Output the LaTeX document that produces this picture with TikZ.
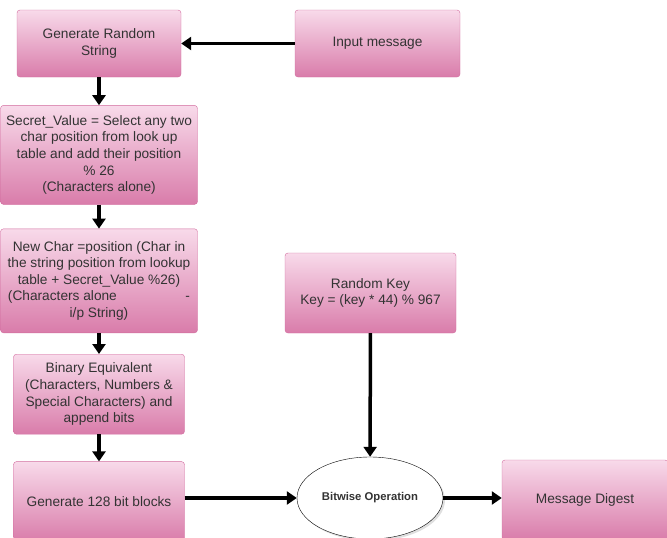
\documentclass[tikz,border=0pt]{standalone}
\usepackage{fontspec}
\setmainfont{Liberation Sans}
\usetikzlibrary{shapes.geometric, arrows.meta, positioning, shadows}

\definecolor{pinktop}{HTML}{F8DAEA}
\definecolor{pinkbot}{HTML}{D97CAA}
\definecolor{pinkline}{HTML}{D26C9E}
\definecolor{txtgray}{HTML}{333333}

\begin{document}
\begin{tikzpicture}[
    x=1pt, y=1pt,
    node distance=24pt,
    box/.style={draw=pinkline, rounded corners=3pt, top color=pinktop, bottom color=pinkbot,
        align=center, text=txtgray, inner sep=2pt,
        font=\fontsize{13.7}{16.6}\selectfont},
    oval/.style={ellipse, draw, fill=white, minimum width=146pt, minimum height=82pt,
        font=\fontsize{11.3}{13}\selectfont\bfseries, text=txtgray,
        drop shadow={opacity=0.25, shadow xshift=2pt, shadow yshift=-2pt}},
    arrow/.style={-{Triangle[length=10pt, width=13pt]}, line width=3.5pt}
]
\useasboundingbox (0,0) rectangle (667,-538);

\node[box, minimum width=164pt, minimum height=67pt] (genstr) at (99,-43.5) {Generate Random\\String};
\node[box, minimum width=165pt, minimum height=67pt] (input) at (377.5,-43.5) {Input message};
\node[box, minimum width=197pt, minimum height=99pt, below=28pt of genstr] (secret)
    {Secret\_Value = Select any two\\char position from look up\\table and add their position\\\% 26\\(Characters alone)};
\node[box, minimum width=197pt, minimum height=104pt, below=24pt of secret] (newchar)
    {New Char =position (Char in\\the string position from lookup\\table + Secret\_Value \%26)\\\makebox[182pt]{(Characters alone\hfill-}\\i/p String)};
\node[box, minimum width=171pt, minimum height=80pt, below=21pt of newchar] (binary)
    {Binary Equivalent\\(Characters, Numbers \&\\Special Characters) and\\append bits};
\node[box, minimum width=171pt, minimum height=80pt, below=27pt of binary] (blocks) {Generate 128 bit blocks};
\node[box, minimum width=171pt, minimum height=80pt] (randkey) at (370.5,-293) {Random Key\\Key = (key * 44) \% 967};
\node[oval] (bitwise) at (370,-498) {Bitwise Operation};
\node[box, minimum width=166pt, minimum height=80pt] (digest) at (585,-500) {Message Digest};

\draw[arrow] (input) -- (genstr);
\draw[arrow] (genstr) -- (secret);
\draw[arrow] (secret) -- (newchar);
\draw[arrow] (newchar) -- (binary);
\draw[arrow] (binary) -- (blocks);
\draw[arrow] (blocks.east |- bitwise) -- (bitwise);
\draw[arrow] (randkey) -- (bitwise);
\draw[arrow] (bitwise) -- (digest.west |- bitwise);
\end{tikzpicture}
\end{document}
